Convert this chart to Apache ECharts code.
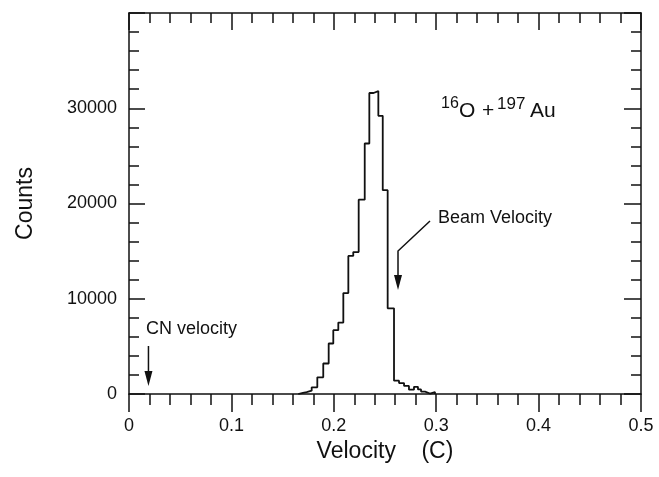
<!DOCTYPE html>
<html>
<head>
<meta charset="utf-8">
<script src="https://cdn.jsdelivr.net/npm/echarts@6/dist/echarts.min.js"></script>
<style>
  html, body { margin: 0; padding: 0; background: #fff; }
  #chart { width: 659px; height: 477px; }
</style>
</head>
<body>
<div id="chart"></div>
<script>
// velocity histogram, 16O + 197Au
const binEdges = [0.1653, 0.1699, 0.1735, 0.1784, 0.1839, 0.1897, 0.1950, 0.1995, 0.2044, 0.2093,
  0.2142, 0.2190, 0.2243, 0.2302, 0.2347, 0.2388, 0.2435, 0.2478, 0.2526, 0.2588,
  0.2637, 0.2686, 0.2734, 0.2783, 0.2822, 0.2852, 0.2891, 0.2939, 0.2988]
const counts = [120, 200, 350, 700, 1750, 3200, 5300, 6700, 7500, 10600,
  14500, 14900, 20400, 26300, 31600, 31800, 29200, 21400, 9000, 1400,
  1150, 850, 450, 750, 480, 250, 50, 200]

const cnVelocity = 0.019
const beamVelocity = 0.2627

const FONT = 'Liberation Sans, Arial, Helvetica, sans-serif'
const INK = '#111'

const chart = echarts.init(document.getElementById('chart'), null, { renderer: 'canvas' })

// step outline: up from the baseline at the first edge, down to it at the last
let histData = [[binEdges[0], 0]]
binEdges.forEach((e, i) => {
  histData.push([e, i < counts.length ? counts[i] : 0])
})

const axisLine = { show: true, onZero: false, lineStyle: { color: INK, width: 1.5 } }

chart.setOption({
  animation: false,
  backgroundColor: '#fff',
  grid: { left: 129, right: 18, top: 13, bottom: 83 },
  xAxis: [
    {
      type: 'value',
      position: 'bottom',
      min: 0,
      max: 0.5,
      interval: 0.1,
      name: 'Velocity    (C)',
      nameLocation: 'middle',
      nameGap: 42,
      nameTextStyle: { color: INK, fontFamily: FONT, fontSize: 23 },
      axisLine: axisLine,
      axisTick: { show: true, inside: false, length: 18, lineStyle: { color: INK, width: 1.5 } },
      minorTick: { show: true, splitNumber: 5, length: 11, lineStyle: { color: INK, width: 1.5 } },
      axisLabel: { color: INK, fontFamily: FONT, fontSize: 18, margin: 23 },
      splitLine: { show: false }
    },
    {
      type: 'value',
      position: 'top',
      min: 0,
      max: 0.5,
      interval: 0.1,
      axisLine: axisLine,
      axisTick: { show: true, inside: true, length: 17, lineStyle: { color: INK, width: 1.5 } },
      minorTick: { show: true, splitNumber: 5, length: 10, lineStyle: { color: INK, width: 1.5 } },
      axisLabel: { show: false },
      splitLine: { show: false }
    }
  ],
  yAxis: [
    {
      type: 'value',
      position: 'left',
      min: 0,
      max: 40000,
      interval: 10000,
      name: 'Counts',
      nameLocation: 'middle',
      nameGap: 92,
      nameTextStyle: { color: INK, fontFamily: FONT, fontSize: 23 },
      axisLine: axisLine,
      axisTick: { show: true, inside: true, length: 16, lineStyle: { color: INK, width: 1.5 } },
      minorTick: { show: true, splitNumber: 5, length: 10, lineStyle: { color: INK, width: 1.5 } },
      axisLabel: {
        color: INK, fontFamily: FONT, fontSize: 18, margin: 12, showMaxLabel: false,
        formatter: v => String(v)
      },
      splitLine: { show: false }
    },
    {
      type: 'value',
      position: 'right',
      min: 0,
      max: 40000,
      interval: 10000,
      axisLine: axisLine,
      axisTick: { show: true, inside: true, length: 17, lineStyle: { color: INK, width: 1.5 } },
      minorTick: { show: true, splitNumber: 5, length: 10, lineStyle: { color: INK, width: 1.5 } },
      axisLabel: { show: false },
      splitLine: { show: false }
    }
  ],
  series: [
    {
      type: 'line',
      step: 'end',
      xAxisIndex: 0,
      yAxisIndex: 0,
      data: histData,
      showSymbol: false,
      lineStyle: { color: INK, width: 1.8 }
    }
  ]
})

// annotations
const cnX = chart.convertToPixel({ xAxisIndex: 0 }, cnVelocity)
const beamX = chart.convertToPixel({ xAxisIndex: 0 }, beamVelocity)

function arrowHead(x, tipY) {
  return {
    type: 'polygon',
    shape: { points: [[x - 4, tipY - 15], [x + 4, tipY - 15], [x, tipY]] },
    style: { fill: INK }
  }
}

function txt(text, x, y, size) {
  return {
    type: 'text',
    x: x,
    y: y,
    style: { text: text, fill: INK, font: size + 'px ' + FONT, textVerticalAlign: 'middle' }
  }
}

chart.setOption({
  graphic: [
    { type: 'line', shape: { x1: cnX, y1: 346, x2: cnX, y2: 375 }, style: { stroke: INK, lineWidth: 1.5 } },
    arrowHead(cnX, 386),
    txt('CN velocity', 146, 329, 18),
    { type: 'polyline', shape: { points: [[430, 221], [beamX, 251], [beamX, 280]] }, style: { stroke: INK, lineWidth: 1.5, fill: null } },
    arrowHead(beamX, 290),
    txt('Beam Velocity', 438, 218, 18),
    txt('16', 441, 104, 16),
    txt('O', 459, 111, 21),
    txt('+', 482, 111, 21),
    txt('197', 497, 104, 17),
    txt('Au', 530, 111, 21)
  ]
})
</script>
</body>
</html>
